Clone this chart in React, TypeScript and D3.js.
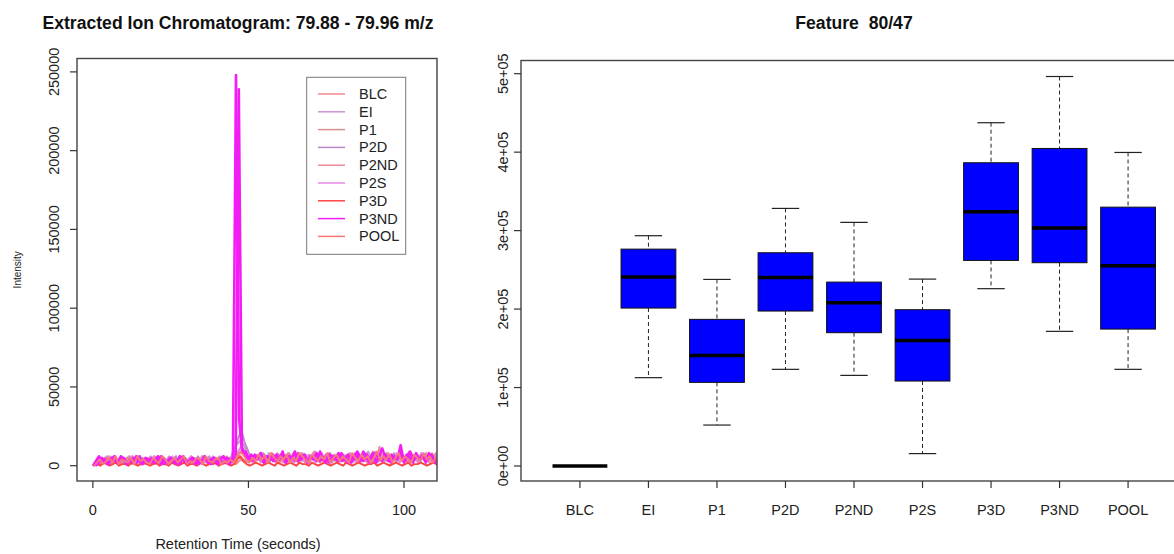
import React from "react";
import * as d3 from "d3";

// ---------- Left panel: extracted ion chromatogram (values in thousands, 1 s sampling) ----------
const classNames = ["BLC", "EI", "P1", "P2D", "P2ND", "P2S", "P3D", "P3ND", "POOL"];
const classColors = ["#f4898c", "#c894d0", "#d99090", "#bb88c8", "#ec8a98", "#e48ae2", "#ff4444", "#f41cf4", "#fa7878"];

const blcTrace = [0,2,5,1,3,6,2,4,1,5,3,2,6,1,4,3,5,2,1,4,
3,6,2,5,1,3,4,2,6,3,1,5,2,4,3,1,6,2,5,3,
1,4,2,3,5,2,1,3,4,2,5,6,3,7,2,5,4,8,3,6,
2,5,7,3,4,6,2,8,5,3,6,4,7,2,5,3,8,4,6,2,
7,5,3,6,4,8,2,5,7,3,9,4,6,3,5,8,2,6,4,7,
3,5,8,4,6,2,7,5,3,8,4,6,2,5,7,4];
const eiTrace = [0,3,1,4,6,2,5,3,1,4,2,6,3,5,1,4,2,3,6,2,
5,1,4,3,6,2,5,1,3,4,2,6,1,5,3,2,4,6,1,3,
5,2,4,3,6,12,14,16,13,9,6,3,7,4,6,2,8,5,3,7,
4,6,2,5,8,3,6,4,7,2,5,9,3,6,4,8,2,7,5,3,
6,4,8,2,5,7,3,6,9,4,2,7,5,3,8,4,6,2,7,5,
3,9,4,6,2,8,5,3,7,4,6,2,8,5,3,6];
const p1Trace = [0,1,4,2,5,3,1,6,2,4,3,5,1,2,6,3,4,1,5,2,
3,6,1,4,2,5,3,1,6,4,2,3,5,1,4,6,2,3,1,5,
4,2,6,3,1,4,8,6,4,3,2,5,3,6,4,7,2,5,3,8,
6,4,2,7,5,3,6,8,4,2,5,7,3,6,4,2,8,5,3,6,
4,7,2,5,3,8,6,4,2,7,5,3,6,4,8,2,5,7,3,6,
4,2,8,5,3,7,4,6,2,5,8,3,6,4,7,3];
const p2dTrace = [0,4,2,5,1,3,6,2,4,1,5,3,6,2,4,5,1,3,2,6,
4,1,5,3,2,4,6,1,3,5,2,4,1,6,3,2,5,4,1,3,
6,2,4,1,3,10,18,22,15,10,5,4,6,3,8,5,2,6,4,7,
3,5,8,2,6,4,3,7,5,2,8,4,6,3,5,7,2,4,8,6,
3,5,2,7,4,6,3,8,5,2,6,4,7,3,5,2,8,6,4,3,
7,5,2,6,4,8,3,5,7,2,6,4,5,8,3,6];
const p2ndTrace = [0,2,3,1,5,4,2,6,3,1,4,5,2,3,6,1,4,2,5,3,
1,6,4,2,3,5,1,4,6,2,3,1,5,4,2,6,3,1,4,2,
5,3,1,6,2,4,6,5,3,2,4,6,3,5,8,2,6,4,3,7,
5,2,6,8,4,3,5,7,2,6,4,9,3,5,2,6,8,4,3,7,
5,2,6,4,8,3,5,7,2,4,6,3,12,5,4,7,2,6,3,8,
5,4,2,7,6,3,5,8,2,4,6,3,7,5,2,4];
const p2sTrace = [0,5,2,4,1,6,3,2,5,4,1,3,6,2,5,1,4,3,2,6,
1,5,3,4,2,6,1,3,5,2,4,6,3,1,5,2,4,3,6,1,
2,5,3,4,1,5,9,12,10,8,6,2,5,7,3,6,4,8,2,5,
7,3,6,4,2,8,5,3,6,7,4,2,5,8,3,6,4,7,2,5,
3,6,8,4,2,7,5,3,6,4,9,2,5,7,3,6,4,8,2,5,
6,3,7,4,2,8,5,6,3,4,7,2,5,6,3,7];
const p3dTrace = [0,1,0,2,1,0,1,2,0,1,1,0,2,1,0,1,2,1,0,1,
2,0,1,1,0,2,1,0,1,2,0,1,1,0,2,1,0,1,1,2,
0,1,2,1,0,1,4,6,3,1,0,1,2,1,0,1,2,1,0,2,
1,0,1,2,1,0,2,1,1,0,2,1,0,1,2,1,0,1,2,1,
0,2,1,0,1,2,1,0,1,1,2,0,1,2,1,0,1,2,1,0,
1,2,0,1,1,2,1,0,1,2,1,0,1,2,1,0];
const p3ndTraceA = [0,3,6,2,4,1,5,3,2,6,4,1,3,5,2,6,1,4,3,5,
2,4,6,1,3,5,2,4,1,6,3,2,5,4,1,3,6,2,4,5,
1,3,2,5,4,3,248,30,8,9,5,3,7,4,8,2,6,5,3,7,
4,9,2,6,5,3,8,4,7,2,6,5,3,9,4,7,2,6,5,8,
3,4,7,2,6,9,5,3,7,4,8,2,6,11,5,3,7,4,6,8,
2,5,9,3,6,4,7,2,8,5,3,6,4,9,2,6];
const p3ndTraceB = [0,2,5,3,1,4,6,2,3,5,1,4,2,6,3,1,5,4,2,3,
6,1,4,2,5,3,1,6,4,2,3,5,1,4,2,6,3,1,5,2,
4,6,3,1,5,5,239,12,6,4,7,3,5,8,2,6,4,7,3,5,
8,2,6,4,9,3,5,7,2,6,4,8,3,5,2,7,6,4,3,8,
5,2,6,4,7,3,9,5,2,6,8,4,3,7,5,2,6,4,13,3,
7,5,2,8,4,6,3,5,7,2,6,4,8,3,5,7];
const poolTrace = [0,2,4,1,3,5,2,6,1,4,3,2,5,1,6,3,4,2,1,5,
3,2,6,4,1,3,5,2,4,6,1,3,2,5,4,1,6,3,2,4,
5,1,3,2,4,2,6,9,7,4,2,5,3,7,4,6,2,8,5,3,
6,4,7,2,5,3,8,6,4,2,7,5,3,6,4,8,2,5,7,3,
6,4,2,8,5,3,7,4,6,2,5,9,3,6,4,7,2,5,8,3,
6,4,2,7,5,3,8,4,6,2,5,7,3,6,4,8];

const traceValues = [blcTrace, eiTrace, p1Trace, p2dTrace, p2ndTrace, p2sTrace, p3dTrace, p3ndTraceA, p3ndTraceB, poolTrace];
const traceClass = [0, 1, 2, 3, 4, 5, 6, 7, 7, 8];
const traceStart = [0, 0.5, 0.25, 0.75, 0.1, 0.6, 0.4, 0, 0.9, 0.3];

const leftXTicks = [0, 50, 100];
const leftYTicks = [0, 50000, 100000, 150000, 200000, 250000];

// ---------- Right panel: boxplot ----------
const boxCategories = ["BLC", "EI", "P1", "P2D", "P2ND", "P2S", "P3D", "P3ND", "POOL"];
const whiskerHigh = [0, 293500, 237800, 328300, 310500, 238200, 437500, 496400, 399600];
const boxQ3 = [0, 276400, 186900, 271800, 234400, 199200, 386500, 404700, 329900];
const boxMedian = [0, 240800, 141000, 240400, 208200, 160100, 324100, 303200, 255300];
const boxQ1 = [0, 201300, 106600, 197500, 169900, 108300, 262000, 259100, 174500];
const whiskerLow = [0, 112600, 52200, 123200, 115500, 15800, 226000, 171600, 123200];
const rightYTicks = [0, 100000, 200000, 300000, 400000, 500000];
const rightYTickLabels = ["0e+00", "1e+05", "2e+05", "3e+05", "4e+05", "5e+05"];

const FONT = "'Liberation Sans', Arial, Helvetica, sans-serif";

export default function App() {
  // left plot
  const L = { x0: 77, x1: 437, y0: 58.5, y1: 481 };
  const xL = d3.scaleLinear().domain([-5.1, 110.6]).range([L.x0, L.x1]);
  const yL = d3.scaleLinear().domain([-9700, 258500]).range([L.y1, L.y0]);
  const line = d3
    .line<[number, number]>()
    .x((d) => xL(d[0]))
    .y((d) => yL(d[1]));

  // right plot
  const R = { x0: 521, x1: 1187, y0: 60.5, y1: 481 };
  const xR = d3.scaleBand<string>().domain(boxCategories).range([R.x0, R.x1]).paddingInner(0.2).paddingOuter(0.46);
  const yR = d3.scaleLinear().domain([-19100, 516800]).range([R.y1, R.y0]);
  const bw = xR.bandwidth();

  const fs = 14.5;

  return (
    <svg width={1174} height={554} style={{ position: "absolute", left: 0, top: 0, background: "#fff" }} fontFamily={FONT}>
      <rect x={0} y={0} width={1174} height={554} fill="#fff" />
      <defs>
        <clipPath id="clipL">
          <rect x={L.x0} y={L.y0} width={L.x1 - L.x0} height={L.y1 - L.y0} />
        </clipPath>
      </defs>

      {/* ---------- left panel ---------- */}
      <text x={238} y={29} textAnchor="middle" fontSize={17.6} fontWeight="bold" fill="#111">
        Extracted Ion Chromatogram: 79.88 - 79.96 m/z
      </text>
      <g clipPath="url(#clipL)">
        {traceValues.map((vals, i) => {
          const pts: [number, number][] = vals.map((v, k) => [traceStart[i] + k, v * 1000]);
          const isPeak = traceClass[i] === 7;
          return (
            <path key={i} d={line(pts) || ""} fill="none" stroke={classColors[traceClass[i]]} strokeWidth={isPeak ? 2.6 : 1.9} strokeLinejoin="round" />
          );
        })}
      </g>
      <rect x={L.x0} y={L.y0} width={L.x1 - L.x0} height={L.y1 - L.y0} fill="none" stroke="#444" strokeWidth={1.4} />
      {leftXTicks.map((t) => (
        <g key={"lx" + t}>
          <line x1={xL(t)} x2={xL(t)} y1={L.y1} y2={L.y1 + 7} stroke="#333" strokeWidth={1.2} />
          <text x={xL(t)} y={515} textAnchor="middle" fontSize={fs} fill="#222">
            {t}
          </text>
        </g>
      ))}
      {leftYTicks.map((t) => (
        <g key={"ly" + t}>
          <line x1={L.x0} x2={L.x0 - 7} y1={yL(t)} y2={yL(t)} stroke="#333" strokeWidth={1.2} />
          <text transform={`translate(58.5,${yL(t)}) rotate(-90)`} textAnchor="middle" fontSize={fs} fill="#222">
            {t}
          </text>
        </g>
      ))}
      <text x={238} y={549} textAnchor="middle" fontSize={fs} fill="#222">
        Retention Time (seconds)
      </text>
      <text transform={`translate(21,${(L.y0 + L.y1) / 2}) rotate(-90)`} textAnchor="middle" fontSize={10} fill="#222">
        Intensity
      </text>

      {/* legend */}
      <rect x={306.7} y={77.3} width={99} height={177} fill="#fff" stroke="#777" strokeWidth={1} />
      {classNames.map((n, i) => {
        const yy = 94 + i * 17.8;
        return (
          <g key={"lg" + n}>
            <line x1={318} x2={345} y1={yy} y2={yy} stroke={classColors[i]} strokeWidth={1.5} />
            <text x={359} y={yy + 5} fontSize={fs} fill="#222">
              {n}
            </text>
          </g>
        );
      })}

      {/* ---------- right panel ---------- */}
      <text x={854} y={29} textAnchor="middle" fontSize={17.6} fontWeight="bold" fill="#111" style={{ whiteSpace: "pre" }}>
        {"Feature  80/47"}
      </text>
      {boxCategories.map((c, i) => {
        const x = xR(c) as number;
        const cx = x + bw / 2;
        return (
          <g key={"bx" + c}>
            <line x1={cx} x2={cx} y1={yR(whiskerHigh[i])} y2={yR(boxQ3[i])} stroke="#222" strokeWidth={1} strokeDasharray="4,3" />
            <line x1={cx} x2={cx} y1={yR(boxQ1[i])} y2={yR(whiskerLow[i])} stroke="#222" strokeWidth={1} strokeDasharray="4,3" />
            <line x1={cx - bw / 4} x2={cx + bw / 4} y1={yR(whiskerHigh[i])} y2={yR(whiskerHigh[i])} stroke="#222" strokeWidth={1.2} />
            <line x1={cx - bw / 4} x2={cx + bw / 4} y1={yR(whiskerLow[i])} y2={yR(whiskerLow[i])} stroke="#222" strokeWidth={1.2} />
            <rect x={x} y={yR(boxQ3[i])} width={bw} height={Math.max(0, yR(boxQ1[i]) - yR(boxQ3[i]))} fill="#0000ff" stroke="#111" strokeWidth={1} />
            <line x1={x} x2={x + bw} y1={yR(boxMedian[i])} y2={yR(boxMedian[i])} stroke="#000" strokeWidth={3.5} />
          </g>
        );
      })}
      <rect x={R.x0} y={R.y0} width={R.x1 - R.x0} height={R.y1 - R.y0} fill="none" stroke="#444" strokeWidth={1.4} />
      {boxCategories.map((c) => {
        const cx = (xR(c) as number) + bw / 2;
        return (
          <g key={"rx" + c}>
            <line x1={cx} x2={cx} y1={R.y1} y2={R.y1 + 7} stroke="#333" strokeWidth={1.2} />
            <text x={cx} y={515} textAnchor="middle" fontSize={fs} fill="#222">
              {c}
            </text>
          </g>
        );
      })}
      {rightYTicks.map((t, i) => (
        <g key={"ry" + t}>
          <line x1={R.x0} x2={R.x0 - 7} y1={yR(t)} y2={yR(t)} stroke="#333" strokeWidth={1.2} />
          <text transform={`translate(507.5,${yR(t)}) rotate(-90)`} textAnchor="middle" fontSize={fs} fill="#222">
            {rightYTickLabels[i]}
          </text>
        </g>
      ))}
    </svg>
  );
}
